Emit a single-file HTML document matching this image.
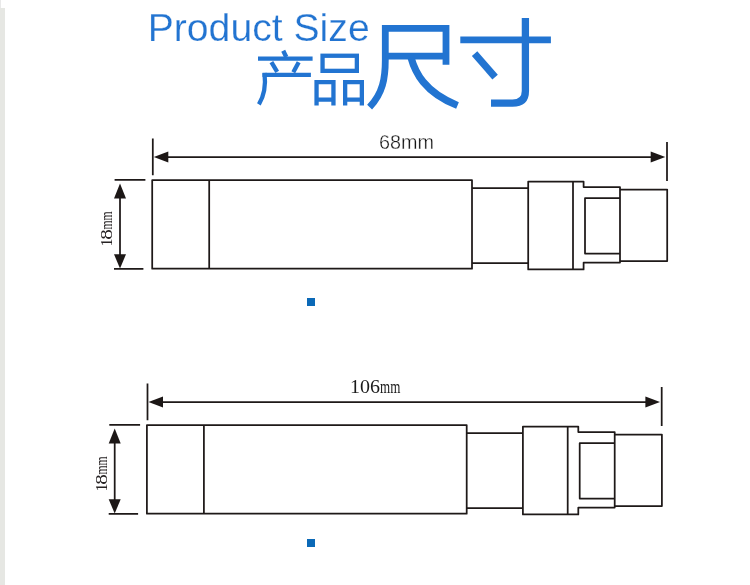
<!DOCTYPE html>
<html>
<head>
<meta charset="utf-8">
<title>Product Size</title>
<style>
  html, body { margin: 0; padding: 0; background: #ffffff; }
  body { width: 750px; height: 585px; overflow: hidden; position: relative;
         font-family: "Liberation Sans", sans-serif; }
  svg { position: absolute; left: 0; top: 0; display: block; will-change: transform; }
  .ln { fill: none; stroke: #1e1918; stroke-width: 1.75; stroke-linecap: butt; stroke-linejoin: round; }
  .ar { fill: #1c1716; stroke: none; }
  .bl { fill: none; stroke: #2274d1; stroke-linecap: butt; stroke-linejoin: miter; }
  .sans { font-family: "Liberation Sans", sans-serif; }
  .serif { font-family: "Liberation Serif", serif; }
</style>
</head>
<body>
<svg width="750" height="585" viewBox="0 0 750 585">
  <!-- left gray strip -->
  <rect x="0" y="0" width="1" height="8" fill="#e9e9e9"/>
  <rect x="0" y="8" width="5" height="577" fill="#e6e7e3"/>

  <!-- Title: Product Size -->
  <text class="sans" x="147.7" y="41.4" font-size="38.8" fill="#2274d1" stroke="#ffffff" stroke-width="0.25" textLength="222" lengthAdjust="spacingAndGlyphs">Product Size</text>

  <!-- 产 -->
  <g class="bl" stroke-width="4.2">
    <path d="M283.2,50.8 L286.3,57" stroke-width="4.4"/>
    <path d="M258,58.7 H312.6"/>
    <path d="M271.4,62.2 L277.2,71.8" stroke-width="4.3"/>
    <path d="M298.7,62.2 L293.3,72.2" stroke-width="4.3"/>
    <path d="M262.5,74.8 H310.9"/>
    <path d="M264.5,73 C265.8,84 264.6,95 258.9,104.3" stroke-width="4.3"/>
  </g>
  <!-- 品 -->
  <g class="bl" stroke-width="4.3">
    <rect x="322.55" y="55.75" width="34.3" height="15.1"/>
    <path d="M316.55,105.5 V82.15 H333.45 V105.5 M316.55,99.7 H333.45"/>
    <path d="M345.15,105.5 V82.15 H361.85 V105.5 M345.15,99.7 H361.85"/>
  </g>
  <!-- 尺 -->
  <g class="bl" stroke-width="6.7">
    <path d="M446,64.8 V28.4 H385.3 V60 C385.3,78 383,93 369.6,107.2" stroke-width="6.8"/>
    <path d="M385.3,56.2 H446"/>
    <path d="M411,57.5 C415,72 424,92 457.5,105.5" stroke-width="7.2"/>
  </g>
  <!-- 寸 -->
  <g class="bl" stroke-width="6.9">
    <path d="M460.3,39.9 H550.9"/>
    <path d="M525.4,18.1 V91 Q525.4,103.2 512.5,103.2 H491" stroke-width="7.3"/>
    <path d="M474.6,53.7 L495.1,77.2" stroke-width="7.2"/>
  </g>

  <!-- blue squares -->
  <rect x="307" y="298" width="8" height="8" fill="#0b69b7"/>
  <rect x="307" y="539" width="8" height="8" fill="#0b69b7"/>


  <!-- top diagram -->
  <g>
      <!-- horizontal dimension -->
      <path class="ln" d="M152.8,138.6 V175.2 M667,142 V181 M162,157 H658"/>
      <polygon class="ar" points="153.8,157 168.3,151.4 168.3,162.6"/>
      <polygon class="ar" points="665.3,157 650.7,151.4 650.7,162.6"/>
      <!-- vertical dimension -->
      <path class="ln" d="M114.6,179.95 H145.4 M114,268.8 H143.4 M120,192 V260"/>
      <polygon class="ar" points="120,183.5 114,198.4 126,198.4"/>
      <polygon class="ar" points="120,268.5 114,254.2 126,254.2"/>
      <!-- body -->
      <path class="ln" d="M152.2,180 H472 V268.7 H152.2 Z M209.2,180 V268.7"/>
      <!-- neck -->
      <path class="ln" d="M472,188 H528.2 M472,263 H528.2"/>
      <!-- collar -->
      <path class="ln" d="M528.2,181.6 H583.6 V187 H620 V262.6 H583.6 V269.4 H528.2 Z M573,181.6 V269.4"/>
      <!-- inner rect -->
      <path class="ln" d="M620,198 H585 V253.6 H620"/>
      <!-- end cap -->
      <path class="ln" d="M620,189.6 H667.2 V261 H620"/>
      <!-- 18mm -->
      <g transform="translate(112.1,246.7) rotate(-90)" fill="#262223">
        <text class="serif" x="0.3" y="0" font-size="17" textLength="8" lengthAdjust="spacingAndGlyphs">1</text>
        <text class="serif" x="7.0" y="0" font-size="17" textLength="10.6" lengthAdjust="spacingAndGlyphs">8</text>
        <text class="serif" x="17.1" y="0" font-size="17" textLength="18.2" lengthAdjust="spacingAndGlyphs">mm</text>
      </g>
  </g>
  <text class="sans" x="379.1" y="148.5" font-size="20" fill="#151515" stroke="#ffffff" stroke-width="0.35" textLength="55" lengthAdjust="spacingAndGlyphs">68mm</text>

  <!-- bottom diagram -->
  <g transform="translate(-5.3,245)">
      <!-- horizontal dimension -->
      <path class="ln" d="M152.8,138.6 V175.2 M667,142 V181 M162,157 H658"/>
      <polygon class="ar" points="153.8,157 168.3,151.4 168.3,162.6"/>
      <polygon class="ar" points="665.3,157 650.7,151.4 650.7,162.6"/>
      <!-- vertical dimension -->
      <path class="ln" d="M114.6,179.95 H145.4 M114,268.8 H143.4 M120,192 V260"/>
      <polygon class="ar" points="120,183.5 114,198.4 126,198.4"/>
      <polygon class="ar" points="120,268.5 114,254.2 126,254.2"/>
      <!-- body -->
      <path class="ln" d="M152.2,180 H472 V268.7 H152.2 Z M209.2,180 V268.7"/>
      <!-- neck -->
      <path class="ln" d="M472,188 H528.2 M472,263 H528.2"/>
      <!-- collar -->
      <path class="ln" d="M528.2,181.6 H583.6 V187 H620 V262.6 H583.6 V269.4 H528.2 Z M573,181.6 V269.4"/>
      <!-- inner rect -->
      <path class="ln" d="M620,198 H585 V253.6 H620"/>
      <!-- end cap -->
      <path class="ln" d="M620,189.6 H667.2 V261 H620"/>
      <!-- 18mm -->
      <g transform="translate(112.1,246.7) rotate(-90)" fill="#262223">
        <text class="serif" x="0.3" y="0" font-size="17" textLength="8" lengthAdjust="spacingAndGlyphs">1</text>
        <text class="serif" x="7.0" y="0" font-size="17" textLength="10.6" lengthAdjust="spacingAndGlyphs">8</text>
        <text class="serif" x="17.1" y="0" font-size="17" textLength="18.2" lengthAdjust="spacingAndGlyphs">mm</text>
      </g>
  </g>
  <text class="serif" x="349.9" y="393" font-size="18.5" fill="#1a1a1a" textLength="30" lengthAdjust="spacingAndGlyphs">106</text>
  <text class="serif" x="380" y="393" font-size="18.5" fill="#1a1a1a" textLength="20.3" lengthAdjust="spacingAndGlyphs">mm</text>
</svg>
</body>
</html>
